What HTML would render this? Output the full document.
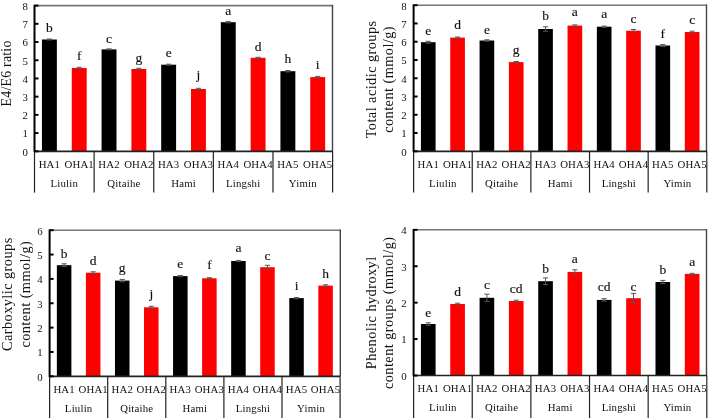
<!DOCTYPE html>
<html><head><meta charset="utf-8"><style>
html,body{margin:0;padding:0;background:#fff;width:709px;height:418px;overflow:hidden}
svg{display:block;will-change:transform}
text{font-family:"Liberation Serif",serif;text-anchor:middle;fill:#111}
.lt{font-size:13.5px;stroke:#111;stroke-width:0.15px}
.yl{}
.tk{font-size:10.8px}
</style></head><body>
<svg width="709" height="418" viewBox="0 0 709 418">
<rect x="41.95" y="39.50" width="14.91" height="111.80" fill="#000"/>
<path d="M46.80 39.00H52.01M49.41 39.00V40.00M46.80 40.00H52.01" stroke="#555" stroke-width="1" fill="none"/>
<text x="49.41" y="32.20" class="lt">b</text>
<text x="49.41" y="167.80" class="tk" letter-spacing="0.15">HA1</text>
<rect x="71.76" y="68.00" width="14.91" height="83.30" fill="#f00"/>
<path d="M76.62 67.30H81.81M79.22 67.30V68.70M76.62 68.70H81.81" stroke="#555" stroke-width="1" fill="none"/>
<text x="79.22" y="60.00" class="lt">f</text>
<text x="79.22" y="167.80" class="tk" letter-spacing="0.15">OHA1</text>
<rect x="101.57" y="49.40" width="14.91" height="101.90" fill="#000"/>
<path d="M106.43 48.90H111.62M109.03 48.90V49.90M106.43 49.90H111.62" stroke="#555" stroke-width="1" fill="none"/>
<text x="109.03" y="42.80" class="lt">c</text>
<text x="109.03" y="167.80" class="tk" letter-spacing="0.15">HA2</text>
<rect x="131.38" y="69.00" width="14.91" height="82.30" fill="#f00"/>
<path d="M136.24 68.30H141.44M138.84 68.30V69.70M136.24 69.70H141.44" stroke="#555" stroke-width="1" fill="none"/>
<text x="138.84" y="61.60" class="lt">g</text>
<text x="138.84" y="167.80" class="tk" letter-spacing="0.15">OHA2</text>
<rect x="161.19" y="64.70" width="14.91" height="86.60" fill="#000"/>
<path d="M166.05 64.20H171.25M168.65 64.20V65.20M166.05 65.20H171.25" stroke="#555" stroke-width="1" fill="none"/>
<text x="168.65" y="56.70" class="lt">e</text>
<text x="168.65" y="167.80" class="tk" letter-spacing="0.15">HA3</text>
<rect x="191.00" y="89.00" width="14.91" height="62.30" fill="#f00"/>
<path d="M195.86 88.30H201.06M198.46 88.30V89.70M195.86 89.70H201.06" stroke="#555" stroke-width="1" fill="none"/>
<text x="198.46" y="78.60" class="lt">j</text>
<text x="198.46" y="167.80" class="tk" letter-spacing="0.15">OHA3</text>
<rect x="220.81" y="22.20" width="14.91" height="129.10" fill="#000"/>
<path d="M225.67 21.60H230.87M228.27 21.60V22.80M225.67 22.80H230.87" stroke="#555" stroke-width="1" fill="none"/>
<text x="228.27" y="15.30" class="lt">a</text>
<text x="228.27" y="167.80" class="tk" letter-spacing="0.15">HA4</text>
<rect x="250.62" y="57.80" width="14.91" height="93.50" fill="#f00"/>
<path d="M255.48 57.30H260.68M258.08 57.30V58.30M255.48 58.30H260.68" stroke="#555" stroke-width="1" fill="none"/>
<text x="258.08" y="51.30" class="lt">d</text>
<text x="258.08" y="167.80" class="tk" letter-spacing="0.15">OHA4</text>
<rect x="280.43" y="71.20" width="14.91" height="80.10" fill="#000"/>
<path d="M285.28 70.50H290.49M287.88 70.50V71.90M285.28 71.90H290.49" stroke="#555" stroke-width="1" fill="none"/>
<text x="287.88" y="63.40" class="lt">h</text>
<text x="287.88" y="167.80" class="tk" letter-spacing="0.15">HA5</text>
<rect x="310.24" y="77.10" width="14.91" height="74.20" fill="#f00"/>
<path d="M315.10 76.40H320.30M317.70 76.40V77.80M315.10 77.80H320.30" stroke="#555" stroke-width="1" fill="none"/>
<text x="317.70" y="68.70" class="lt">i</text>
<text x="317.70" y="167.80" class="tk" letter-spacing="0.15">OHA5</text>
<path d="M34.50 5.60H332.60" stroke="#777" stroke-width="1.6" fill="none"/>
<path d="M332.50 4.80V151.30" stroke="#444" stroke-width="1.4" fill="none"/>
<path d="M34.50 151.30H332.60" stroke="#222" stroke-width="1.7" fill="none"/>
<path d="M34.50 4.80V152.10" stroke="#000" stroke-width="2" fill="none"/>
<path d="M34.50 151.30V192.60" stroke="#222" stroke-width="1.2"/>
<path d="M34.50 151.30H38.50" stroke="#000" stroke-width="2"/>
<text x="25.10" y="155.60" class="tk">0</text>
<path d="M34.50 133.09H38.50" stroke="#000" stroke-width="2"/>
<text x="25.10" y="137.39" class="tk">1</text>
<path d="M34.50 114.88H38.50" stroke="#000" stroke-width="2"/>
<text x="25.10" y="119.17" class="tk">2</text>
<path d="M34.50 96.66H38.50" stroke="#000" stroke-width="2"/>
<text x="25.10" y="100.96" class="tk">3</text>
<path d="M34.50 78.45H38.50" stroke="#000" stroke-width="2"/>
<text x="25.10" y="82.75" class="tk">4</text>
<path d="M34.50 60.24H38.50" stroke="#000" stroke-width="2"/>
<text x="25.10" y="64.54" class="tk">5</text>
<path d="M34.50 42.03H38.50" stroke="#000" stroke-width="2"/>
<text x="25.10" y="46.33" class="tk">6</text>
<path d="M34.50 23.81H38.50" stroke="#000" stroke-width="2"/>
<text x="25.10" y="28.11" class="tk">7</text>
<path d="M34.50 5.60H38.50" stroke="#000" stroke-width="2"/>
<text x="25.10" y="9.90" class="tk">8</text>
<path d="M94.12 151.30V192.60" stroke="#222" stroke-width="1.2"/>
<path d="M153.74 151.30V192.60" stroke="#222" stroke-width="1.2"/>
<path d="M213.36 151.30V192.60" stroke="#222" stroke-width="1.2"/>
<path d="M272.98 151.30V192.60" stroke="#222" stroke-width="1.2"/>
<path d="M332.60 151.30V192.60" stroke="#222" stroke-width="1.2"/>
<text x="64.31" y="187.10" class="tk" letter-spacing="0.2">Liulin</text>
<text x="123.93" y="187.10" class="tk" letter-spacing="0.2">Qitaihe</text>
<text x="183.55" y="187.10" class="tk" letter-spacing="0.2">Hami</text>
<text x="243.17" y="187.10" class="tk" letter-spacing="0.2">Lingshi</text>
<text x="302.79" y="187.10" class="tk" letter-spacing="0.2">Yimin</text>
<text transform="translate(11.30 73.40) rotate(-90)" x="0" y="0" class="yl" style="font-size:13.8px;letter-spacing:0.25px">E4/E6 ratio</text>
<rect x="420.93" y="42.20" width="14.66" height="109.10" fill="#000"/>
<path d="M425.66 41.30H430.86M428.26 41.30V43.10M425.66 43.10H430.86" stroke="#555" stroke-width="1" fill="none"/>
<text x="428.26" y="35.10" class="lt">e</text>
<text x="428.26" y="167.80" class="tk" letter-spacing="0.15">HA1</text>
<rect x="450.25" y="37.60" width="14.66" height="113.70" fill="#f00"/>
<path d="M454.98 37.00H460.18M457.58 37.00V38.20M454.98 38.20H460.18" stroke="#555" stroke-width="1" fill="none"/>
<text x="457.58" y="29.40" class="lt">d</text>
<text x="457.58" y="167.80" class="tk" letter-spacing="0.15">OHA1</text>
<rect x="479.57" y="40.50" width="14.66" height="110.80" fill="#000"/>
<path d="M484.30 39.80H489.50M486.90 39.80V41.20M484.30 41.20H489.50" stroke="#555" stroke-width="1" fill="none"/>
<text x="486.90" y="33.80" class="lt">e</text>
<text x="486.90" y="167.80" class="tk" letter-spacing="0.15">HA2</text>
<rect x="508.89" y="62.10" width="14.66" height="89.20" fill="#f00"/>
<path d="M513.62 61.50H518.82M516.22 61.50V62.70M513.62 62.70H518.82" stroke="#555" stroke-width="1" fill="none"/>
<text x="516.22" y="53.80" class="lt">g</text>
<text x="516.22" y="167.80" class="tk" letter-spacing="0.15">OHA2</text>
<rect x="538.21" y="29.00" width="14.66" height="122.30" fill="#000"/>
<path d="M542.94 26.80H548.14M545.54 26.80V31.20M542.94 31.20H548.14" stroke="#555" stroke-width="1" fill="none"/>
<text x="545.54" y="20.20" class="lt">b</text>
<text x="545.54" y="167.80" class="tk" letter-spacing="0.15">HA3</text>
<rect x="567.53" y="25.60" width="14.66" height="125.70" fill="#f00"/>
<path d="M572.26 24.90H577.46M574.86 24.90V26.30M572.26 26.30H577.46" stroke="#555" stroke-width="1" fill="none"/>
<text x="574.86" y="16.00" class="lt">a</text>
<text x="574.86" y="167.80" class="tk" letter-spacing="0.15">OHA3</text>
<rect x="596.85" y="26.70" width="14.66" height="124.60" fill="#000"/>
<path d="M601.58 26.10H606.78M604.18 26.10V27.30M601.58 27.30H606.78" stroke="#555" stroke-width="1" fill="none"/>
<text x="604.18" y="17.70" class="lt">a</text>
<text x="604.18" y="167.80" class="tk" letter-spacing="0.15">HA4</text>
<rect x="626.17" y="30.70" width="14.66" height="120.60" fill="#f00"/>
<path d="M630.90 29.50H636.10M633.50 29.50V31.90M630.90 31.90H636.10" stroke="#555" stroke-width="1" fill="none"/>
<text x="633.50" y="23.30" class="lt">c</text>
<text x="633.50" y="167.80" class="tk" letter-spacing="0.15">OHA4</text>
<rect x="655.49" y="45.50" width="14.66" height="105.80" fill="#000"/>
<path d="M660.22 44.60H665.42M662.82 44.60V46.40M660.22 46.40H665.42" stroke="#555" stroke-width="1" fill="none"/>
<text x="662.82" y="37.70" class="lt">f</text>
<text x="662.82" y="167.80" class="tk" letter-spacing="0.15">HA5</text>
<rect x="684.81" y="32.00" width="14.66" height="119.30" fill="#f00"/>
<path d="M689.54 31.20H694.74M692.14 31.20V32.80M689.54 32.80H694.74" stroke="#555" stroke-width="1" fill="none"/>
<text x="692.14" y="24.40" class="lt">c</text>
<text x="692.14" y="167.80" class="tk" letter-spacing="0.15">OHA5</text>
<path d="M413.60 5.20H706.80" stroke="#777" stroke-width="1.6" fill="none"/>
<path d="M706.50 4.40V151.30" stroke="#444" stroke-width="1.4" fill="none"/>
<path d="M413.60 151.30H706.80" stroke="#222" stroke-width="1.7" fill="none"/>
<path d="M413.60 4.40V152.10" stroke="#000" stroke-width="2" fill="none"/>
<path d="M413.60 151.30V192.60" stroke="#222" stroke-width="1.2"/>
<path d="M413.60 151.30H417.60" stroke="#000" stroke-width="2"/>
<text x="404.00" y="155.60" class="tk">0</text>
<path d="M413.60 133.04H417.60" stroke="#000" stroke-width="2"/>
<text x="404.00" y="137.34" class="tk">1</text>
<path d="M413.60 114.78H417.60" stroke="#000" stroke-width="2"/>
<text x="404.00" y="119.08" class="tk">2</text>
<path d="M413.60 96.51H417.60" stroke="#000" stroke-width="2"/>
<text x="404.00" y="100.81" class="tk">3</text>
<path d="M413.60 78.25H417.60" stroke="#000" stroke-width="2"/>
<text x="404.00" y="82.55" class="tk">4</text>
<path d="M413.60 59.99H417.60" stroke="#000" stroke-width="2"/>
<text x="404.00" y="64.29" class="tk">5</text>
<path d="M413.60 41.72H417.60" stroke="#000" stroke-width="2"/>
<text x="404.00" y="46.02" class="tk">6</text>
<path d="M413.60 23.46H417.60" stroke="#000" stroke-width="2"/>
<text x="404.00" y="27.76" class="tk">7</text>
<path d="M413.60 5.20H417.60" stroke="#000" stroke-width="2"/>
<text x="404.00" y="9.50" class="tk">8</text>
<path d="M472.24 151.30V192.60" stroke="#222" stroke-width="1.2"/>
<path d="M530.88 151.30V192.60" stroke="#222" stroke-width="1.2"/>
<path d="M589.52 151.30V192.60" stroke="#222" stroke-width="1.2"/>
<path d="M648.16 151.30V192.60" stroke="#222" stroke-width="1.2"/>
<path d="M706.80 151.30V192.60" stroke="#222" stroke-width="1.2"/>
<text x="442.92" y="187.10" class="tk" letter-spacing="0.2">Liulin</text>
<text x="501.56" y="187.10" class="tk" letter-spacing="0.2">Qitaihe</text>
<text x="560.20" y="187.10" class="tk" letter-spacing="0.2">Hami</text>
<text x="618.84" y="187.10" class="tk" letter-spacing="0.2">Lingshi</text>
<text x="677.48" y="187.10" class="tk" letter-spacing="0.2">Yimin</text>
<text transform="translate(376.00 79.40) rotate(-90)" x="0" y="0" class="yl" style="font-size:14.3px;letter-spacing:0.45px">Total acidic groups</text>
<text transform="translate(393.00 79.40) rotate(-90)" x="0" y="0" class="yl" style="font-size:14.3px;letter-spacing:0.45px">content (mmol/g)</text>
<rect x="56.86" y="265.20" width="14.53" height="111.10" fill="#000"/>
<path d="M61.52 263.80H66.72M64.12 263.80V266.60M61.52 266.60H66.72" stroke="#555" stroke-width="1" fill="none"/>
<text x="64.12" y="258.00" class="lt">b</text>
<text x="64.12" y="392.80" class="tk" letter-spacing="0.15">HA1</text>
<rect x="85.91" y="272.70" width="14.53" height="103.60" fill="#f00"/>
<path d="M90.58 271.80H95.78M93.18 271.80V273.60M90.58 273.60H95.78" stroke="#555" stroke-width="1" fill="none"/>
<text x="93.18" y="264.70" class="lt">d</text>
<text x="93.18" y="392.80" class="tk" letter-spacing="0.15">OHA1</text>
<rect x="114.96" y="280.60" width="14.53" height="95.70" fill="#000"/>
<path d="M119.63 279.40H124.83M122.23 279.40V281.80M119.63 281.80H124.83" stroke="#555" stroke-width="1" fill="none"/>
<text x="122.23" y="271.80" class="lt">g</text>
<text x="122.23" y="392.80" class="tk" letter-spacing="0.15">HA2</text>
<rect x="144.01" y="307.30" width="14.53" height="69.00" fill="#f00"/>
<path d="M148.68 306.30H153.88M151.28 306.30V308.30M148.68 308.30H153.88" stroke="#555" stroke-width="1" fill="none"/>
<text x="151.28" y="298.00" class="lt">j</text>
<text x="151.28" y="392.80" class="tk" letter-spacing="0.15">OHA2</text>
<rect x="173.06" y="276.10" width="14.53" height="100.20" fill="#000"/>
<path d="M177.73 275.50H182.93M180.33 275.50V276.70M177.73 276.70H182.93" stroke="#555" stroke-width="1" fill="none"/>
<text x="180.33" y="267.50" class="lt">e</text>
<text x="180.33" y="392.80" class="tk" letter-spacing="0.15">HA3</text>
<rect x="202.11" y="278.30" width="14.53" height="98.00" fill="#f00"/>
<path d="M206.78 277.70H211.97M209.38 277.70V278.90M206.78 278.90H211.97" stroke="#555" stroke-width="1" fill="none"/>
<text x="209.38" y="269.00" class="lt">f</text>
<text x="209.38" y="392.80" class="tk" letter-spacing="0.15">OHA3</text>
<rect x="231.16" y="261.00" width="14.53" height="115.30" fill="#000"/>
<path d="M235.83 260.40H241.03M238.43 260.40V261.60M235.83 261.60H241.03" stroke="#555" stroke-width="1" fill="none"/>
<text x="238.43" y="251.80" class="lt">a</text>
<text x="238.43" y="392.80" class="tk" letter-spacing="0.15">HA4</text>
<rect x="260.21" y="267.20" width="14.53" height="109.10" fill="#f00"/>
<path d="M264.88 265.30H270.08M267.48 265.30V269.10M264.88 269.10H270.08" stroke="#555" stroke-width="1" fill="none"/>
<text x="267.48" y="260.30" class="lt">c</text>
<text x="267.48" y="392.80" class="tk" letter-spacing="0.15">OHA4</text>
<rect x="289.26" y="298.10" width="14.53" height="78.20" fill="#000"/>
<path d="M293.92 297.50H299.12M296.52 297.50V298.70M293.92 298.70H299.12" stroke="#555" stroke-width="1" fill="none"/>
<text x="296.52" y="289.50" class="lt">i</text>
<text x="296.52" y="392.80" class="tk" letter-spacing="0.15">HA5</text>
<rect x="318.31" y="285.60" width="14.53" height="90.70" fill="#f00"/>
<path d="M322.97 284.80H328.18M325.57 284.80V286.40M322.97 286.40H328.18" stroke="#555" stroke-width="1" fill="none"/>
<text x="325.57" y="278.00" class="lt">h</text>
<text x="325.57" y="392.80" class="tk" letter-spacing="0.15">OHA5</text>
<path d="M49.60 230.20H340.10" stroke="#777" stroke-width="1.6" fill="none"/>
<path d="M340.30 229.40V376.30" stroke="#444" stroke-width="1.4" fill="none"/>
<path d="M49.60 376.30H340.10" stroke="#222" stroke-width="1.7" fill="none"/>
<path d="M49.60 229.40V377.10" stroke="#000" stroke-width="2" fill="none"/>
<path d="M49.60 376.30V418.00" stroke="#222" stroke-width="1.2"/>
<path d="M49.60 376.30H53.60" stroke="#000" stroke-width="2"/>
<text x="40.00" y="380.60" class="tk">0</text>
<path d="M49.60 351.95H53.60" stroke="#000" stroke-width="2"/>
<text x="40.00" y="356.25" class="tk">1</text>
<path d="M49.60 327.60H53.60" stroke="#000" stroke-width="2"/>
<text x="40.00" y="331.90" class="tk">2</text>
<path d="M49.60 303.25H53.60" stroke="#000" stroke-width="2"/>
<text x="40.00" y="307.55" class="tk">3</text>
<path d="M49.60 278.90H53.60" stroke="#000" stroke-width="2"/>
<text x="40.00" y="283.20" class="tk">4</text>
<path d="M49.60 254.55H53.60" stroke="#000" stroke-width="2"/>
<text x="40.00" y="258.85" class="tk">5</text>
<path d="M49.60 230.20H53.60" stroke="#000" stroke-width="2"/>
<text x="40.00" y="234.50" class="tk">6</text>
<path d="M107.70 376.30V418.00" stroke="#222" stroke-width="1.2"/>
<path d="M165.80 376.30V418.00" stroke="#222" stroke-width="1.2"/>
<path d="M223.90 376.30V418.00" stroke="#222" stroke-width="1.2"/>
<path d="M282.00 376.30V418.00" stroke="#222" stroke-width="1.2"/>
<path d="M340.10 376.30V418.00" stroke="#222" stroke-width="1.2"/>
<text x="78.65" y="412.10" class="tk" letter-spacing="0.2">Liulin</text>
<text x="136.75" y="412.10" class="tk" letter-spacing="0.2">Qitaihe</text>
<text x="194.85" y="412.10" class="tk" letter-spacing="0.2">Hami</text>
<text x="252.95" y="412.10" class="tk" letter-spacing="0.2">Lingshi</text>
<text x="311.05" y="412.10" class="tk" letter-spacing="0.2">Yimin</text>
<text transform="translate(11.80 294.20) rotate(-90)" x="0" y="0" class="yl" style="font-size:14.3px;letter-spacing:0.45px">Carboxylic groups</text>
<text transform="translate(29.50 294.20) rotate(-90)" x="0" y="0" class="yl" style="font-size:14.3px;letter-spacing:0.45px">content (mmol/g)</text>
<rect x="420.93" y="324.00" width="14.66" height="51.50" fill="#000"/>
<path d="M425.66 322.80H430.86M428.26 322.80V325.20M425.66 325.20H430.86" stroke="#555" stroke-width="1" fill="none"/>
<text x="428.26" y="317.00" class="lt">e</text>
<text x="428.26" y="392.00" class="tk" letter-spacing="0.15">HA1</text>
<rect x="450.25" y="304.00" width="14.66" height="71.50" fill="#f00"/>
<path d="M454.98 303.20H460.18M457.58 303.20V304.80M454.98 304.80H460.18" stroke="#555" stroke-width="1" fill="none"/>
<text x="457.58" y="296.10" class="lt">d</text>
<text x="457.58" y="392.00" class="tk" letter-spacing="0.15">OHA1</text>
<rect x="479.57" y="297.80" width="14.66" height="77.70" fill="#000"/>
<path d="M484.30 294.20H489.50M486.90 294.20V301.40M484.30 301.40H489.50" stroke="#555" stroke-width="1" fill="none"/>
<text x="486.90" y="289.30" class="lt">c</text>
<text x="486.90" y="392.00" class="tk" letter-spacing="0.15">HA2</text>
<rect x="508.89" y="301.00" width="14.66" height="74.50" fill="#f00"/>
<path d="M513.62 300.20H518.82M516.22 300.20V301.80M513.62 301.80H518.82" stroke="#555" stroke-width="1" fill="none"/>
<text x="516.22" y="292.70" class="lt">cd</text>
<text x="516.22" y="392.00" class="tk" letter-spacing="0.15">OHA2</text>
<rect x="538.21" y="281.20" width="14.66" height="94.30" fill="#000"/>
<path d="M542.94 277.90H548.14M545.54 277.90V284.50M542.94 284.50H548.14" stroke="#555" stroke-width="1" fill="none"/>
<text x="545.54" y="272.80" class="lt">b</text>
<text x="545.54" y="392.00" class="tk" letter-spacing="0.15">HA3</text>
<rect x="567.53" y="271.90" width="14.66" height="103.60" fill="#f00"/>
<path d="M572.26 269.80H577.46M574.86 269.80V274.00M572.26 274.00H577.46" stroke="#555" stroke-width="1" fill="none"/>
<text x="574.86" y="262.60" class="lt">a</text>
<text x="574.86" y="392.00" class="tk" letter-spacing="0.15">OHA3</text>
<rect x="596.85" y="299.90" width="14.66" height="75.60" fill="#000"/>
<path d="M601.58 298.70H606.78M604.18 298.70V301.10M601.58 301.10H606.78" stroke="#555" stroke-width="1" fill="none"/>
<text x="604.18" y="290.50" class="lt">cd</text>
<text x="604.18" y="392.00" class="tk" letter-spacing="0.15">HA4</text>
<rect x="626.17" y="298.20" width="14.66" height="77.30" fill="#f00"/>
<path d="M630.90 293.40H636.10M633.50 293.40V303.00M630.90 303.00H636.10" stroke="#555" stroke-width="1" fill="none"/>
<text x="633.50" y="291.40" class="lt">c</text>
<text x="633.50" y="392.00" class="tk" letter-spacing="0.15">OHA4</text>
<rect x="655.49" y="282.00" width="14.66" height="93.50" fill="#000"/>
<path d="M660.22 280.40H665.42M662.82 280.40V283.60M660.22 283.60H665.42" stroke="#555" stroke-width="1" fill="none"/>
<text x="662.82" y="274.40" class="lt">b</text>
<text x="662.82" y="392.00" class="tk" letter-spacing="0.15">HA5</text>
<rect x="684.81" y="273.90" width="14.66" height="101.60" fill="#f00"/>
<path d="M689.54 273.30H694.74M692.14 273.30V274.50M689.54 274.50H694.74" stroke="#555" stroke-width="1" fill="none"/>
<text x="692.14" y="266.20" class="lt">a</text>
<text x="692.14" y="392.00" class="tk" letter-spacing="0.15">OHA5</text>
<path d="M413.60 229.80H706.80" stroke="#777" stroke-width="1.6" fill="none"/>
<path d="M706.50 229.00V375.50" stroke="#444" stroke-width="1.4" fill="none"/>
<path d="M413.60 375.50H706.80" stroke="#222" stroke-width="1.7" fill="none"/>
<path d="M413.60 229.00V376.30" stroke="#000" stroke-width="2" fill="none"/>
<path d="M413.60 375.50V418.00" stroke="#222" stroke-width="1.2"/>
<path d="M413.60 375.50H417.60" stroke="#000" stroke-width="2"/>
<text x="404.00" y="379.80" class="tk">0</text>
<path d="M413.60 339.07H417.60" stroke="#000" stroke-width="2"/>
<text x="404.00" y="343.38" class="tk">1</text>
<path d="M413.60 302.65H417.60" stroke="#000" stroke-width="2"/>
<text x="404.00" y="306.95" class="tk">2</text>
<path d="M413.60 266.23H417.60" stroke="#000" stroke-width="2"/>
<text x="404.00" y="270.53" class="tk">3</text>
<path d="M413.60 229.80H417.60" stroke="#000" stroke-width="2"/>
<text x="404.00" y="234.10" class="tk">4</text>
<path d="M472.24 375.50V418.00" stroke="#222" stroke-width="1.2"/>
<path d="M530.88 375.50V418.00" stroke="#222" stroke-width="1.2"/>
<path d="M589.52 375.50V418.00" stroke="#222" stroke-width="1.2"/>
<path d="M648.16 375.50V418.00" stroke="#222" stroke-width="1.2"/>
<path d="M706.80 375.50V418.00" stroke="#222" stroke-width="1.2"/>
<text x="442.92" y="411.30" class="tk" letter-spacing="0.2">Liulin</text>
<text x="501.56" y="411.30" class="tk" letter-spacing="0.2">Qitaihe</text>
<text x="560.20" y="411.30" class="tk" letter-spacing="0.2">Hami</text>
<text x="618.84" y="411.30" class="tk" letter-spacing="0.2">Lingshi</text>
<text x="677.48" y="411.30" class="tk" letter-spacing="0.2">Yimin</text>
<text transform="translate(376.00 312.80) rotate(-90)" x="0" y="0" class="yl" style="font-size:14.3px;letter-spacing:0.45px">Phenolic hydroxyl</text>
<text transform="translate(393.00 312.80) rotate(-90)" x="0" y="0" class="yl" style="font-size:14.3px;letter-spacing:0.45px">content groups (mmol/g)</text>
</svg></body></html>
